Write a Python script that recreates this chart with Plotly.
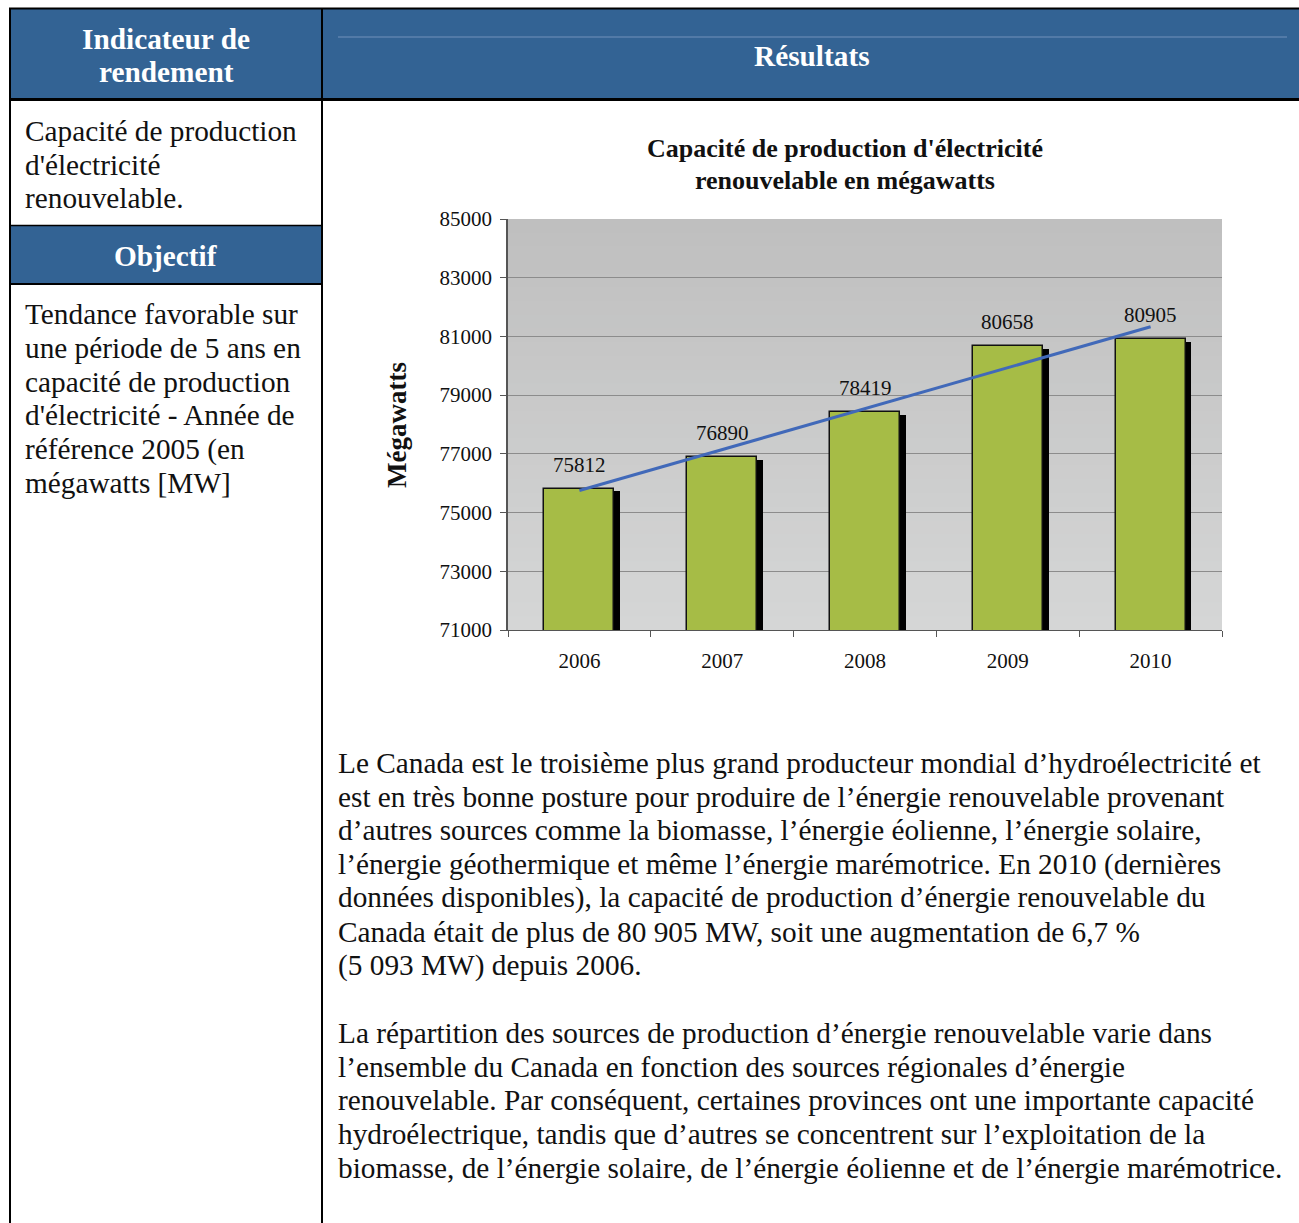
import plotly.graph_objects as go

W, H = 1299, 1223

years = ["2006", "2007", "2008", "2009", "2010"]
capacity_mw = [75812, 76890, 78419, 80658, 80905]
trend_years = ["2006", "2010"]
trend_mw = [75750, 81330]
y_ticks = [71000, 73000, 75000, 77000, 79000, 81000, 83000, 85000]

chart_title = ["Capacité de production d'électricité", "renouvelable en mégawatts"]
y_title = "Mégawatts"

header_left = ["Indicateur de", "rendement"]
header_right = "Résultats"
header_obj = "Objectif"
left_indicator = ["Capacité de production", "d'électricité", "renouvelable."]
left_objective = ["Tendance favorable sur", "une période de 5 ans en",
                  "capacité de production", "d'électricité - Année de",
                  "référence 2005 (en", "mégawatts [MW]"]
para1 = ["Le Canada est le troisième plus grand producteur mondial d’hydroélectricité et",
         "est en très bonne posture pour produire de l’énergie renouvelable provenant",
         "d’autres sources comme la biomasse, l’énergie éolienne, l’énergie solaire,",
         "l’énergie géothermique et même l’énergie marémotrice. En 2010 (dernières",
         "données disponibles), la capacité de production d’énergie renouvelable du",
         "Canada était de plus de 80 905 MW, soit une augmentation de 6,7 %",
         "(5 093 MW) depuis 2006."]
para2 = ["La répartition des sources de production d’énergie renouvelable varie dans",
         "l’ensemble du Canada en fonction des sources régionales d’énergie",
         "renouvelable. Par conséquent, certaines provinces ont une importante capacité",
         "hydroélectrique, tandis que d’autres se concentrent sur l’exploitation de la",
         "biomasse, de l’énergie solaire, de l’énergie éolienne et de l’énergie marémotrice."]

SERIF = "Liberation Serif, Times New Roman, serif"
BLUE = "#336394"
BODY = 29.3


def px(x):
    return x / W


def py(y):
    return 1 - y / H


fig = go.Figure()

# shadow bars
fig.add_trace(go.Bar(
    x=years, y=[v - 90 for v in capacity_mw],
    width=0.49, offset=-0.245 + 0.04,
    marker=dict(color="#000000", line=dict(width=0)),
    hoverinfo="skip", showlegend=False))
# main bars
fig.add_trace(go.Bar(
    x=years, y=capacity_mw,
    width=0.49, offset=-0.245,
    marker=dict(color="#a6bc46", line=dict(color="#111111", width=1.5)),
    showlegend=False))
# trend line
fig.add_trace(go.Scatter(
    x=trend_years, y=trend_mw, mode="lines",
    line=dict(color="#4169b9", width=3), showlegend=False))

fig.update_layout(
    width=W, height=H, margin=dict(l=0, r=0, t=0, b=0, pad=0),
    paper_bgcolor="white", plot_bgcolor="rgba(0,0,0,0)",
    barmode="overlay", bargap=0.0,
    font=dict(family=SERIF, color="#111111"),
    xaxis=dict(domain=[px(508), px(1222)], type="category", automargin=False,
               categoryorder="array", categoryarray=years,
               range=[-0.5, len(years) - 0.5],
               showgrid=False, showline=True, linecolor="#555555", linewidth=1,
               ticks="outside", ticklen=6, tickcolor="#555555",
               tickson="boundaries", ticklabelstandoff=12, tickangle=0,
               tickfont=dict(family=SERIF, size=21, color="#111111"),
               anchor="y", fixedrange=True),
    yaxis=dict(domain=[py(630), py(219)], range=[71000, 85000], automargin=False,
               tickvals=y_ticks, ticktext=[str(v) for v in y_ticks],
               showgrid=True, gridcolor="#8c8c8c", gridwidth=1,
               showline=True, linecolor="#555555", linewidth=1.5,
               ticks="outside", ticklen=6, tickcolor="#555555",
               ticklabelstandoff=4,
               tickfont=dict(family=SERIF, size=21, color="#111111"),
               zeroline=False, fixedrange=True),
)

shapes = []
# plot background gradient (below gridlines)
n = 30
top_c = (191, 191, 191)
bot_c = (213, 214, 214)
for i in range(n):
    t = i / (n - 1)
    c = tuple(int(round(top_c[k] + (bot_c[k] - top_c[k]) * t)) for k in range(3))
    shapes.append(dict(type="rect", xref="x domain", yref="y domain",
                       x0=0, x1=1, y0=max(0, 1 - (i + 1) / n - 0.004), y1=1 - i / n,
                       fillcolor="rgb(%d,%d,%d)" % c, line=dict(width=0),
                       layer="below"))

# table: blue header and objectif band
shapes.append(dict(type="rect", xref="paper", yref="paper",
                   x0=px(10), x1=1, y0=py(100), y1=py(9),
                   fillcolor=BLUE, line=dict(width=0), layer="below"))
shapes.append(dict(type="rect", xref="paper", yref="paper",
                   x0=px(10), x1=px(322), y0=py(284), y1=py(226),
                   fillcolor=BLUE, line=dict(width=0), layer="below"))
# light line in header
shapes.append(dict(type="line", xref="paper", yref="paper",
                   x0=px(338), x1=px(1287), y0=py(37), y1=py(37),
                   line=dict(color="#7392bb", width=1), layer="above"))


def hline(y, x0, x1, w=2):
    shapes.append(dict(type="line", xref="paper", yref="paper",
                       x0=px(x0), x1=px(x1), y0=py(y), y1=py(y),
                       line=dict(color="#000000", width=w), layer="above"))


def vline(x, y0, y1, w=2):
    shapes.append(dict(type="line", xref="paper", yref="paper",
                       x0=px(x), x1=px(x), y0=py(y0), y1=py(y1),
                       line=dict(color="#000000", width=w), layer="above"))


hline(8.5, 9, 1299, 2)
hline(99.5, 9, 1299, 3)
hline(225.5, 9, 322, 1.5)
hline(284, 9, 322, 2)
vline(10, 8, 1223, 2)
vline(322, 8, 1223, 2)

fig.update_layout(shapes=shapes)

ann = []

# data labels above bars (category axis: annotation x is the category index)
for i, v in enumerate(capacity_mw):
    ann.append(dict(xref="x", yref="y", x=i, y=v, text=str(v),
                    showarrow=False, xanchor="center", yanchor="middle",
                    yshift=24,
                    font=dict(family=SERIF, size=21, color="#111111")))


def text(x, y, s, size, bold=False, color="#111111", xanchor="left", angle=0):
    if bold:
        s = "<b>" + s + "</b>"
    ann.append(dict(xref="paper", yref="paper", x=px(x), y=py(y), text=s,
                    showarrow=False, xanchor=xanchor, yanchor="middle",
                    textangle=angle, align="center", borderpad=0,
                    font=dict(family=SERIF, size=size, color=color)))


for i, s in enumerate(header_left):
    text(166, 39 + i * 33.5, s, BODY, bold=True, color="white", xanchor="center")
text(812, 56, header_right, BODY, bold=True, color="white", xanchor="center")
text(166, 256, header_obj, BODY, bold=True, color="white", xanchor="center")

for i, s in enumerate(left_indicator):
    text(24, 131 + i * 33.6, s, BODY)
for i, s in enumerate(left_objective):
    text(24, 314 + i * 33.8, s, BODY)
for i, s in enumerate(para1):
    text(337, 763 + i * 33.7, s, BODY)
for i, s in enumerate(para2):
    text(337, 1033 + i * 33.7, s, BODY)

for i, s in enumerate(chart_title):
    text(845, 148 + i * 33, s, 26, bold=True, xanchor="center")
text(397, 425, y_title, 27, bold=True, xanchor="center", angle=-90)

fig.update_layout(annotations=ann)

fig.write_html("out.html", config={"displayModeBar": False})
